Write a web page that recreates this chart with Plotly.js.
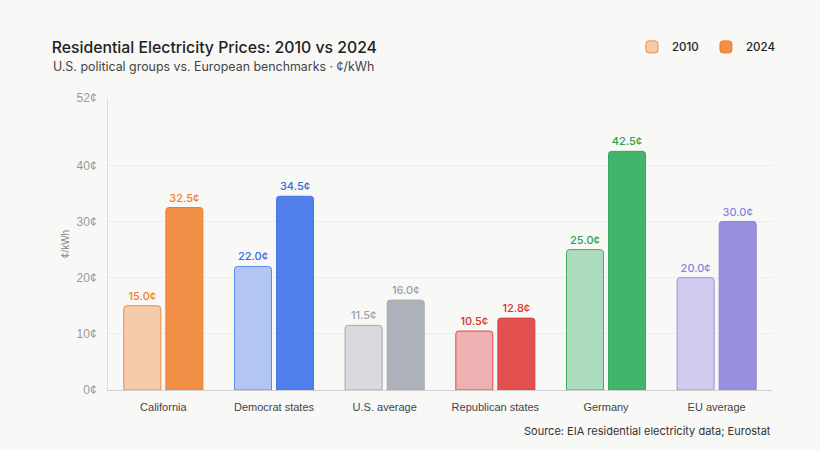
<!DOCTYPE html>
<html><head><meta charset="utf-8">
<script src="https://cdn.plot.ly/plotly-3.0.1.min.js"></script>
<style>html,body{margin:0;padding:0;background:#f8f8f6;}#chart{width:820px;height:450px;}</style>
</head><body><div id="chart"></div>
<script>
const categories = ["California","Democrat states","U.S. average","Republican states","Germany","EU average"];
const values2010 = [15.0, 22.0, 11.5, 10.5, 25.0, 20.0];
const values2024 = [32.5, 34.5, 16.0, 12.8, 42.5, 30.0];
const fill2010 = ["#f5cbab","#b3c6f3","#d9dadd","#eeb1b1","#acdcbd","#d0ccf0"];
const line2010 = ["#f08a3c","#5a86ec","#a2a7b0","#e04a4a","#3aaf62","#9a8ee2"];
const fill2024 = ["#f08f45","#5080ec","#adb1b9","#e25050","#42b46b","#978fe0"];
const line2024 = ["#ea7f30","#4674e6","#a2a6ae","#d84242","#35a85e","#8c83d8"];
const labelColors = ["#f07f22","#2f6de0","#9aa0aa","#d93030","#28a050","#8a7fe0"];
const fmt = v => v.toFixed(1) + "¢";

const traces = [
  {type:"bar", name:"2010", x:categories, y:values2010,
   marker:{color:fill2010, line:{color:line2010, width:1}},
   text:values2010.map(fmt), textposition:"outside", cliponaxis:false,
   textfont:{color:labelColors, size:11, family:"Inter, sans-serif", weight:500}, hoverinfo:"none"},
  {type:"bar", name:"2024", x:categories, y:values2024,
   marker:{color:fill2024, line:{color:line2024, width:1}},
   text:values2024.map(fmt), textposition:"outside", cliponaxis:false,
   textfont:{color:labelColors, size:11, family:"Inter, sans-serif", weight:500}, hoverinfo:"none"}
];

const layout = {
  width:820, height:450,
  paper_bgcolor:"#f8f8f6", plot_bgcolor:"#f8f8f6",
  margin:{l:108, r:48, t:98, b:60},
  barmode:"group", bargap:0.24, bargroupgap:0.12, barcornerradius:3,
  font:{family:"Liberation Sans, Arial, sans-serif", color:"#444"},
  title:{text:"Residential Electricity Prices: 2010 vs 2024", x:0.063, xanchor:"left", y:0.895, yanchor:"middle",
    font:{family:"Inter, sans-serif", size:15.8, color:"#222", weight:500}},
  xaxis:{tickfont:{size:11, color:"#444"}, showline:true, linecolor:"#cfcfcf", linewidth:1, ticks:"", fixedrange:true,
    ticklabelstandoff:7},
  yaxis:{range:[0,52], tickvals:[0,10,20,30,40,52], ticktext:["0¢","10¢","20¢","30¢","40¢","52¢"],
    tickfont:{size:12, color:"#999"}, gridcolor:"#ebebe8", showline:true, linecolor:"#dcdcdc", zeroline:false,
    ticks:"", ticklabelstandoff:8,
    title:{text:"¢/kWh", font:{size:10, color:"#888"}, standoff:5}},
  legend:{orientation:"h", x:1.012, xanchor:"right", y:1.175, yanchor:"middle",
    font:{family:"Inter, sans-serif", size:11.5, color:"#222", weight:500}, itemwidth:30, traceorder:"normal",
    bgcolor:"rgba(0,0,0,0)", entrywidth:29, entrywidthmode:"pixels"},
  annotations:[
    {text:"U.S. political groups vs. European benchmarks · ¢/kWh", xref:"paper", yref:"paper", x:-0.0855, y:1.108,
     xanchor:"left", yanchor:"middle", showarrow:false, font:{family:"Inter, sans-serif", size:12.4, color:"#444"}},
    {text:"Source: EIA residential electricity data; Eurostat", xref:"paper", yref:"paper", x:1.002, y:-0.14,
     xanchor:"right", yanchor:"middle", showarrow:false, font:{family:"Inter, sans-serif", size:11, color:"#333"}}
  ]
};
Plotly.newPlot("chart", traces, layout, {displayModeBar:false, staticPlot:true});
</script></body></html>
